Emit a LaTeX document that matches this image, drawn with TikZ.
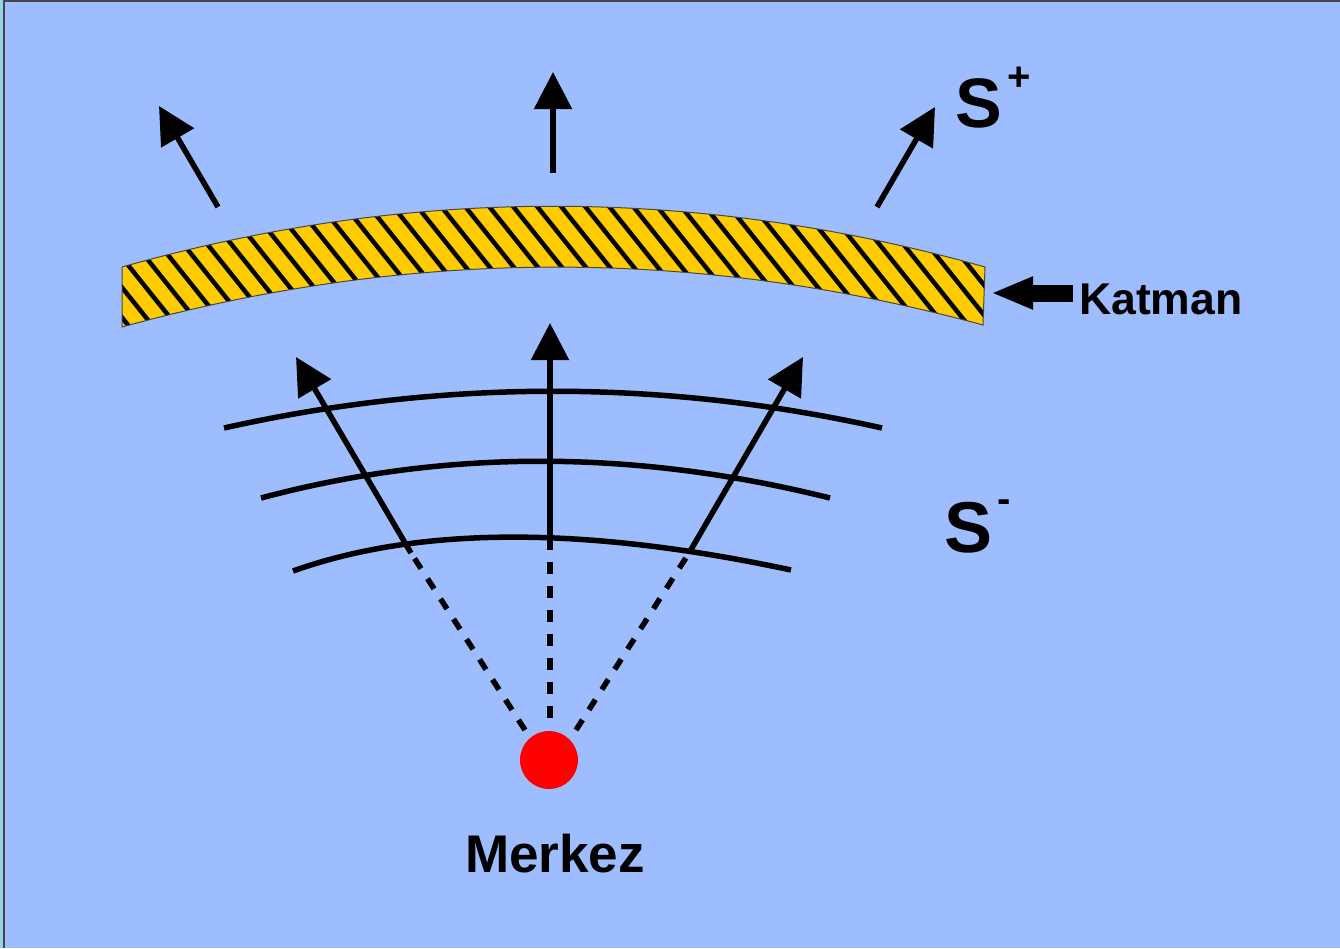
\documentclass[tikz,border=0pt]{standalone}
\usepackage{fontspec}
\setmainfont{Liberation Sans}
\usetikzlibrary{arrows.meta}
\definecolor{bgblue}{RGB}{157,189,255}
\definecolor{bandyellow}{RGB}{255,204,0}
\definecolor{edgecyan}{RGB}{150,210,235}
\definecolor{framegray}{RGB}{70,70,70}
\tikzset{
  arr/.style={line width=5.5pt,-{Triangle[length=37pt,width=37pt]}},
  fatarr/.style={line width=17pt,-{Triangle[length=42pt,width=30pt]}},
  dashln/.style={line width=5.5pt,dash pattern=on 12pt off 12pt},
  wave/.style={line width=5.5pt},
  hatch/.style={line width=4.5pt},
  lbl/.style={font=\bfseries, inner sep=0pt}
}
\begin{document}
\begin{tikzpicture}[x=1pt,y=-1pt]
\useasboundingbox (0,0) rectangle (1340,948);
\fill[bgblue] (0,0) rectangle (1340,948);
\fill[edgecyan] (0,0) rectangle (3,948);
\draw[framegray,line width=1.5pt] (4,948) -- (4,1) -- (1340,1);
% band
\def\bandpath{(122,267) .. controls (409,186) and (697,186) .. (985,267) -- (983,325) .. controls (696,247) and (409,248) .. (122,327) -- cycle}
\fill[bandyellow] \bandpath;
\begin{scope}
\clip \bandpath;
\foreach \i in {0,...,46} {\draw[hatch] (-20+\i*24,170) -- ++(144,180);}
\end{scope}
\draw[framegray,line width=1pt] \bandpath;
% upper arrows
\coordinate (ua1) at (218,207); \coordinate (ua2) at (159,106);
\coordinate (ub1) at (553,173); \coordinate (ub2) at (553,72);
\coordinate (uc1) at (877,207); \coordinate (uc2) at (935,107);
\draw[arr] (ua1) -- (ua2);
\draw[arr] (ub1) -- (ub2);
\draw[arr] (uc1) -- (uc2);
% waves
\coordinate (w1a) at (224,428); \coordinate (w1b) at (882,428);
\coordinate (w2a) at (261,498); \coordinate (w2b) at (830,498);
\coordinate (w3a) at (293,571); \coordinate (w3b) at (791,570);
\draw[wave] (w1a) .. controls (443,379) and (663,379) .. (w1b);
\draw[wave] (w2a) .. controls (444,449) and (634,449) .. (w2b);
\draw[wave] (w3a) .. controls (419,526) and (585,526) .. (w3b);
% lower arrows
\coordinate (la0) at (525,730); \coordinate (la1) at (411,553); \coordinate (la2) at (296,357);
\coordinate (lb0) at (550,718); \coordinate (lb1) at (550,547); \coordinate (lb2) at (550,323);
\coordinate (lc0) at (576,730); \coordinate (lc1) at (689,553); \coordinate (lc2) at (803,357);
\draw[dashln] (la0) -- (la1);
\draw[dashln] (lb0) -- (lb1);
\draw[dashln] (lc0) -- (lc1);
\draw[arr] (la1) -- (la2);
\draw[arr] (lb1) -- (lb2);
\draw[arr] (lc1) -- (lc2);
% centre
\node[circle,fill=red,minimum size=58pt,inner sep=0pt] (merkez) at (549,760) {};
\node[lbl,anchor=base,font=\bfseries\fontsize{53}{60}\selectfont] (merkeztxt) at (555,872) {Merkez};
% katman
\node[lbl,anchor=base west,font=\bfseries\fontsize{44.5}{50}\selectfont] (katman) at (1079,314) {Katman};
\coordinate (k1) at (1073,293); \coordinate (k2) at (991,293);
\draw[fatarr] (k1) -- (k2);
% S labels
\node[lbl,anchor=base west,font=\bfseries\fontsize{70}{80}\selectfont] (splus) at (955,127) {S\hspace{6pt}\raisebox{37pt}{\fontsize{40}{44}\selectfont +}};
\node[lbl,anchor=base west,font=\bfseries\fontsize{72}{80}\selectfont] (sminus) at (944,552) {S\hspace{5pt}\raisebox{40pt}{\fontsize{40}{44}\selectfont -}};
\end{tikzpicture}
\end{document}
